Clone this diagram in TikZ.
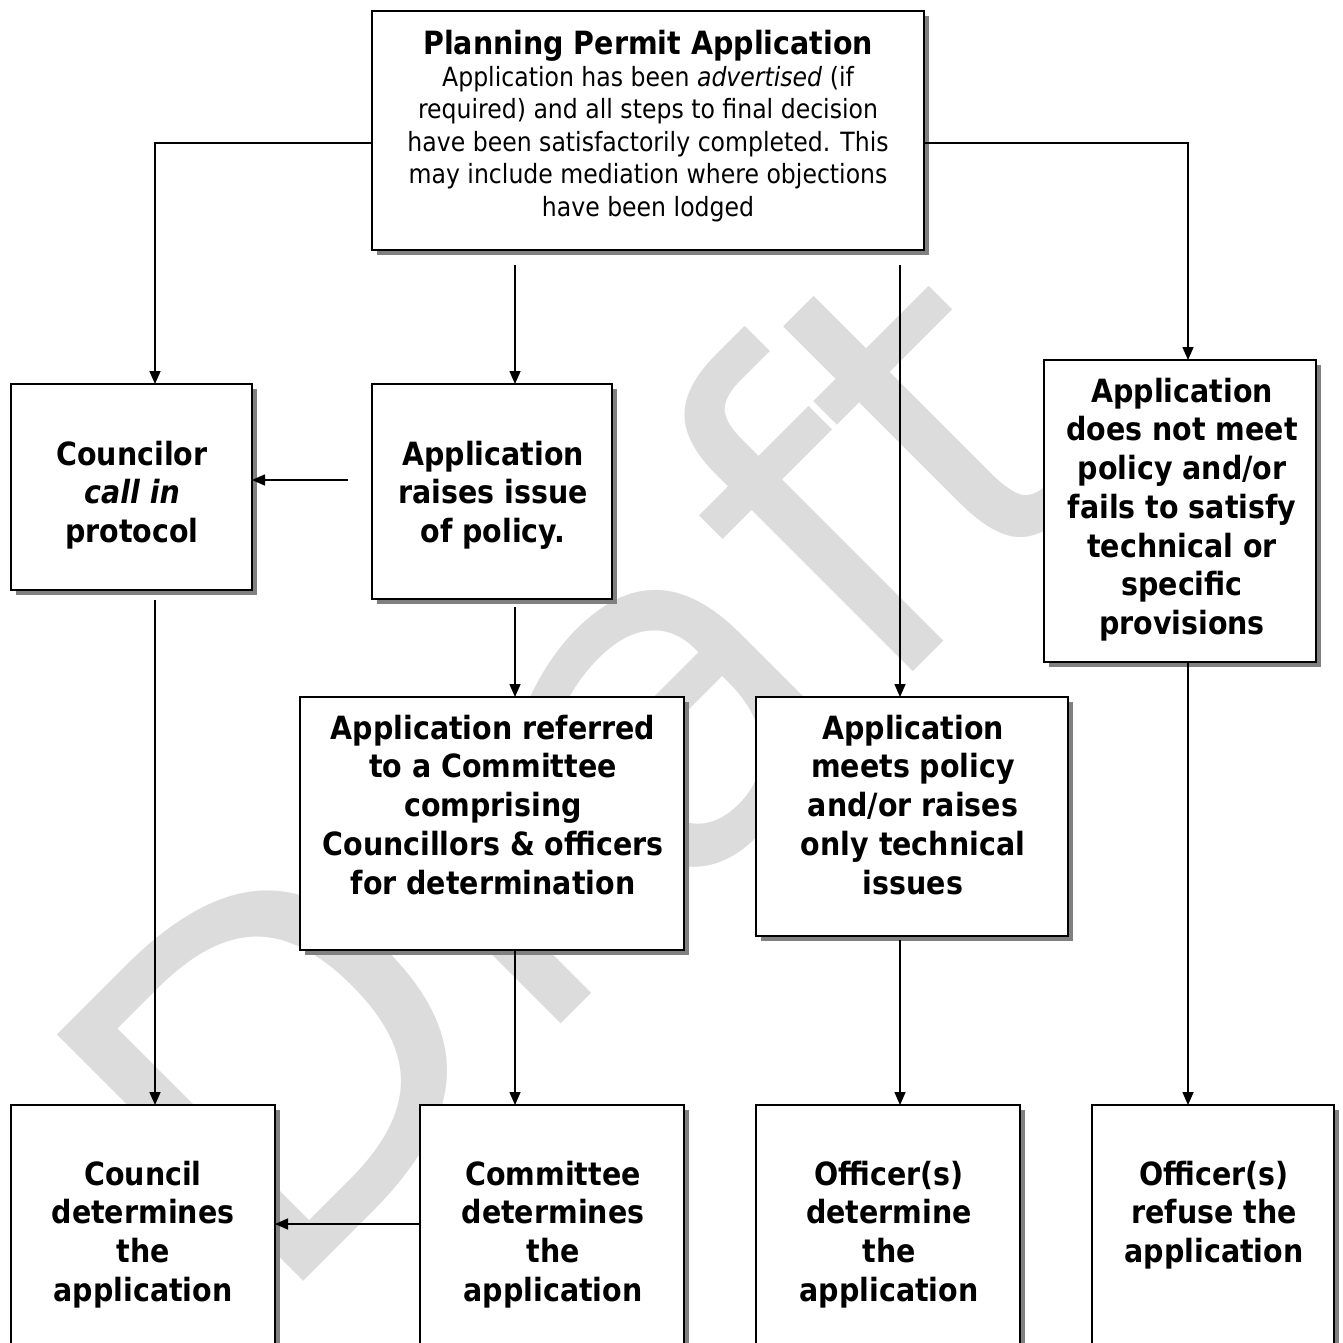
\documentclass[tikz,border=0pt]{standalone}
\usepackage{fontspec}
\setmainfont{DejaVu Sans}[FakeStretch=0.89]
\newfontfamily\wmfont{DejaVu Sans}
\usetikzlibrary{arrows.meta,shadows}
\definecolor{shd}{HTML}{808080}
\definecolor{wm}{HTML}{DCDCDC}
\newcommand\fl[1]{\rule{0pt}{#1pt}}
\begin{document}
\begin{tikzpicture}[x=1pt,y=-1pt,
 box/.style={draw=black, line width=2pt, fill=white, rectangle, inner sep=0pt, outer sep=0pt,
   drop shadow={shadow xshift=5pt, shadow yshift=-5pt, fill=shd, opacity=1}},
 btxt/.style={align=center, anchor=north, inner sep=0pt, font=\bfseries\fontsize{32}{38.7}\selectfont},
 rtxt/.style={align=center, anchor=north, inner sep=0pt, font=\fontsize{26.5}{32.5}\selectfont},
 arr/.style={line width=1.6pt, -{Triangle[length=13pt,width=11pt]}},
 wmtxt/.style={rotate=45, anchor=base west, inner sep=0pt, text=wm, font=\wmfont\fontsize{478}{478}\selectfont}
]
\useasboundingbox (0,0) rectangle (1342,1343);
\clip (0,0) rectangle (1342,1343);
\fill[white] (0,0) rectangle (1342,1343);

% watermark
\node[wmtxt] (wmk) at (270,1315) {Draft};

% boxes
\node[box, minimum width=552pt, minimum height=239pt] (top) at (648,130.5) {};
\node[box, minimum width=241pt, minimum height=206pt] (councilor) at (131.5,487) {};
\node[box, minimum width=240pt, minimum height=215pt] (raises) at (492,491.5) {};
\node[box, minimum width=272pt, minimum height=302pt] (notmeet) at (1180,511) {};
\node[box, minimum width=384pt, minimum height=253pt] (referred) at (492,823.5) {};
\node[box, minimum width=312pt, minimum height=239pt] (meets) at (912,816.5) {};
\node[box, minimum width=264pt, minimum height=295pt] (council) at (143,1252.5) {};
\node[box, minimum width=264pt, minimum height=295pt] (committee) at (552,1252.5) {};
\node[box, minimum width=264pt, minimum height=295pt] (offdet) at (888,1252.5) {};
\node[box, minimum width=242pt, minimum height=295pt] (refuse) at (1213,1252.5) {};

% connectors
\draw[arr] ([yshift=-12.5pt]top.west) -| ([xshift=23.5pt]councilor.north);
\draw[arr] ([yshift=-12.5pt]top.east) -| ([xshift=8pt]notmeet.north);
\draw[arr] ([xshift=-133pt,yshift=-15pt]top.south) -- ([xshift=23pt]raises.north);
\draw[arr] ([xshift=252pt,yshift=-15pt]top.south) -- ([xshift=-12pt]meets.north);
\draw[arr] ([xshift=-24pt,yshift=11.5pt]raises.west) -- ([yshift=7pt]councilor.east);
\draw[arr] ([xshift=23.5pt,yshift=-10pt]councilor.south) -- ([xshift=12pt]council.north);
\draw[arr] ([xshift=23pt,yshift=-8pt]raises.south) -- ([xshift=23pt]referred.north);
\draw[arr] ([xshift=23pt]referred.south) -- ([xshift=-37pt]committee.north);
\draw[arr] ([xshift=-12pt,yshift=-4pt]meets.south) -- ([xshift=12pt]offdet.north);
\draw[arr] ([xshift=8pt]notmeet.south) -- ([xshift=-25pt]refuse.north);
\draw[arr] ([yshift=28.5pt]committee.west) -- ([yshift=28.5pt]council.east);

% texts
\node[btxt] (ttitle) at (648,24) {\fl{30}Planning Permit Application};
\node[rtxt] (tbody) at (648,61) {\fl{25}Application has been \textit{advertised} (if\\
 required) and all steps to final decision\\
 have been satisfactorily completed. This\\
 may include mediation where objections\\
 have been lodged};
\node[btxt] (tcouncilor) at (132,435) {\fl{30}Councilor\\ \textit{call in}\\ protocol};
\node[btxt] (traises) at (493,435) {\fl{30}Application\\ raises issue\\ of policy.};
\node[btxt] (tnotmeet) at (1182,372) {\fl{30}Application\\ does not meet\\ policy and/or\\ fails to satisfy\\ technical or\\ specific\\ provisions};
\node[btxt] (treferred) at (493,709) {\fl{30}Application referred\\ to a Committee\\ comprising\\ Councillors \& officers\\ for determination};
\node[btxt] (tmeets) at (913,709) {\fl{30}Application\\ meets policy\\ and/or raises\\ only technical\\ issues};
\node[btxt] (tcouncil) at (143,1155) {\fl{30}Council\\ determines\\ the\\ application};
\node[btxt] (tcommittee) at (553,1155) {\fl{30}Committee\\ determines\\ the\\ application};
\node[btxt] (toffdet) at (889,1155) {\fl{30}Officer(s)\\ determine\\ the\\ application};
\node[btxt] (trefuse) at (1214,1155) {\fl{30}Officer(s)\\ refuse the\\ application};
\end{tikzpicture}
\end{document}
